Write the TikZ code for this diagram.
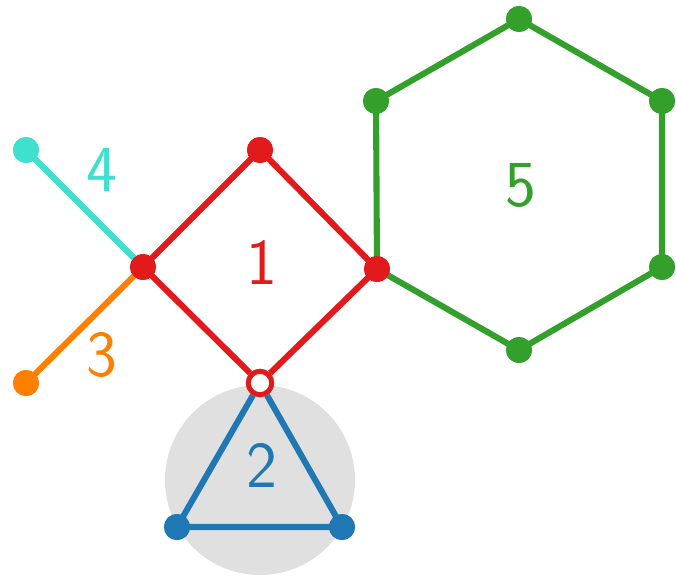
\documentclass[tikz,border=0pt]{standalone}
\usepackage{tikz}
\usetikzlibrary{positioning}

\definecolor{cred}{HTML}{E31A1C}
\definecolor{cblue}{HTML}{1F78B4}
\definecolor{cgreen}{HTML}{33A02C}
\definecolor{corange}{HTML}{FF7F00}
\definecolor{ccyan}{HTML}{40E0D0}
\definecolor{cgray}{HTML}{E0E0E0}

\tikzset{
  vtx/.style={circle, fill=#1, inner sep=0pt, minimum size=0.78cm},
  hollow/.style={circle, draw=#1, fill=white, line width=4.2pt, inner sep=0pt, minimum size=0.7cm},
  edge/.style={draw=#1, line width=5.2pt},
  lbl/.style={text=#1, font=\fontsize{56}{60}\selectfont\sffamily}
}

\begin{document}
\begin{tikzpicture}[x=0.03cm, y=-0.03cm]
  \useasboundingbox (0,0) rectangle (676,579);
  % background disc
  \fill[cgray] (260,480) circle (95);
  % vertices
  \node[vtx=cred] (d1) at (260,150) {};
  \node[vtx=cred] (d2) at (143,267) {};
  \node[vtx=cred] (d3) at (377,269) {};
  \node[hollow=cred] (d4) at (260,383) {};
  \node[vtx=cblue] (t1) at (177,527) {};
  \node[vtx=cblue] (t2) at (342,527) {};
  \node[vtx=cgreen] (h1) at (519,19) {};
  \node[vtx=cgreen] (h2) at (662,101) {};
  \node[vtx=cgreen] (h3) at (662,267) {};
  \node[vtx=cgreen] (h4) at (519,350) {};
  \node[vtx=cgreen] (h6) at (376,101) {};
  \node[vtx=ccyan] (c1) at (26,150) {};
  \node[vtx=corange] (o1) at (26,383) {};
  % edges
  \draw[edge=cgreen] (d3.center) -- (h6.center) -- (h1.center) -- (h2.center) -- (h3.center) -- (h4.center) -- (d3.center);
  \draw[edge=ccyan] (c1.center) -- (d2.center);
  \draw[edge=corange] (o1.center) -- (d2.center);
  \draw[edge=cblue] (d4) -- (t1.center) -- (t2.center) -- (d4);
  \draw[edge=cred] (d1.center) -- (d2.center) -- (d4);
  \draw[edge=cred] (d1.center) -- (d3.center) -- (d4);
  % redraw dots on top
  \foreach \v/\c in {d1/cred, d2/cred, d3/cred, t1/cblue, t2/cblue, h1/cgreen, h2/cgreen, h3/cgreen, h4/cgreen, h6/cgreen, c1/ccyan, o1/corange}
    \fill[\c] (\v) circle (13);
  \node[hollow=cred] at (d4) {};
  % labels
  \node[lbl=cred] (l1) at (262,262) {1};
  \node[lbl=cblue] (l2) at (262,465) {2};
  \node[lbl=corange] (l3) at (102,355) {3};
  \node[lbl=ccyan] (l4) at (102,170) {4};
  \node[lbl=cgreen] (l5) at (521,185) {5};
\end{tikzpicture}
\end{document}
